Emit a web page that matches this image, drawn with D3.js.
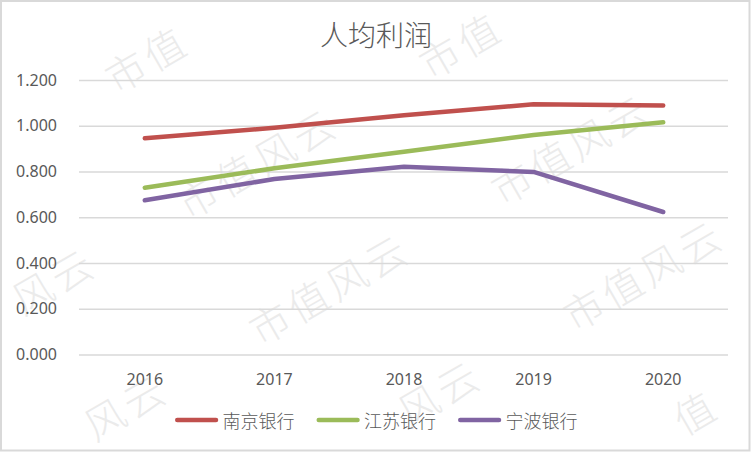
<!DOCTYPE html>
<html><head><meta charset="utf-8">
<script src="https://cdn.jsdelivr.net/npm/d3@7"></script>
<style>body{margin:0;background:#fff} svg{display:block}</style>
</head><body>
<script>
const years = ["2016", "2017", "2018", "2019", "2020"];
const seriesNames = ["南京银行", "江苏银行", "宁波银行"];
const nanjing = [0.945, 0.991, 1.046, 1.094, 1.089];
const jiangsu = [0.729, 0.814, 0.886, 0.960, 1.015];
const ningbo = [0.674, 0.767, 0.821, 0.798, 0.623];
const yTicks = [0, 0.2, 0.4, 0.6, 0.8, 1.0, 1.2];
const titleText = "人均利润";
const watermarkText = "市值风云";

const colors = ["#C0504D", "#9BBB59", "#8064A2"];
const series = [nanjing, jiangsu, ningbo].map((v, i) => ({name: seriesNames[i], values: v, color: colors[i]}));

const W = 752, H = 452;
const plot = {left: 80, right: 728, top: 80, bottom: 354.5};
const svg = d3.select("body").append("svg").attr("width", W).attr("height", H);

svg.append("rect").attr("x", 0).attr("y", 0).attr("width", W).attr("height", H).attr("fill", "#fff");

// watermark (decorative tiling), one glyph per text, only glyphs that sit inside the picture
const wm = svg.append("g");
const A = [125, 70], u = [314, -14], v = [72, 126], step = [38.4, -22.2];
const chars = Array.from(watermarkText);
const m = 27;
for (let i = -2; i <= 3; i++) for (let j = -2; j <= 4; j++) {
  const cx = A[0] + i * u[0] + j * v[0], cy = A[1] + i * u[1] + j * v[1];
  chars.forEach((c, k) => {
    const gx = cx + k * step[0], gy = cy + k * step[1];
    if (gx < m || gx > W - m || gy < m || gy > H - m) return;
    wm.append("text")
      .attr("transform", `translate(${gx},${gy}) rotate(-30)`)
      .attr("text-anchor", "middle").attr("dominant-baseline", "central")
      .attr("font-family", "Noto Sans CJK SC").attr("font-weight", 300)
      .attr("font-size", 40)
      .attr("fill", "#ebebeb")
      .text(c);
  });
}

svg.append("rect").attr("x", 1).attr("y", 1).attr("width", 748.5).attr("height", 449.5)
  .attr("fill", "none").attr("stroke", "#d9d9d9").attr("stroke-width", 2);

const x = d3.scaleBand().domain(years).range([plot.left, plot.right]);
const y = d3.scaleLinear().domain([0, 1.2]).range([plot.bottom, plot.top]);

// y axis with gridlines
const gy = svg.append("g").attr("transform", `translate(${plot.left - 1},0)`)
  .call(d3.axisLeft(y).tickValues(yTicks).tickFormat(d3.format(".3f"))
    .tickSize(-(plot.right - plot.left + 1)).tickPadding(22));
gy.select(".domain").remove();
gy.selectAll(".tick line").attr("stroke", "#d9d9d9").attr("stroke-width", 1.5);
gy.selectAll(".tick text").attr("font-family", "Noto Sans").attr("font-size", 16).attr("fill", "#595959");

// x axis
const gx = svg.append("g").attr("transform", `translate(0,${plot.bottom})`)
  .call(d3.axisBottom(x).tickSize(0).tickPadding(19));
gx.select(".domain").remove();
gx.selectAll(".tick text").attr("font-family", "Noto Sans").attr("font-size", 16).attr("fill", "#595959");

// lines
const line = d3.line().x((d, i) => x(years[i]) + x.bandwidth() / 2).y(d => y(d));
svg.append("g").selectAll("path").data(series).join("path")
  .attr("d", d => line(d.values))
  .attr("fill", "none").attr("stroke", d => d.color).attr("stroke-width", 4.5)
  .attr("stroke-linecap", "round").attr("stroke-linejoin", "round");

// title
svg.append("text").attr("x", W / 2).attr("y", 34).attr("text-anchor", "middle")
  .attr("dominant-baseline", "central")
  .attr("font-family", "Noto Sans CJK SC").attr("font-weight", 300).attr("font-size", 28)
  .attr("fill", "#595959").text(titleText);

// legend
const lg = svg.append("g");
let lx = 175;
const ly = 420;
series.forEach(s => {
  lg.append("line").attr("x1", lx + 2.25).attr("x2", lx + 41).attr("y1", ly).attr("y2", ly)
    .attr("stroke", s.color).attr("stroke-width", 4.5).attr("stroke-linecap", "round");
  const t = lg.append("text").attr("x", lx + 47.5).attr("y", ly).attr("dominant-baseline", "central")
    .attr("font-family", "Noto Sans CJK SC").attr("font-weight", 300).attr("font-size", 18)
    .attr("fill", "#595959").text(s.name);
  lx = lx + 47.5 + t.node().getComputedTextLength() + 22;
});
</script>
</body></html>
